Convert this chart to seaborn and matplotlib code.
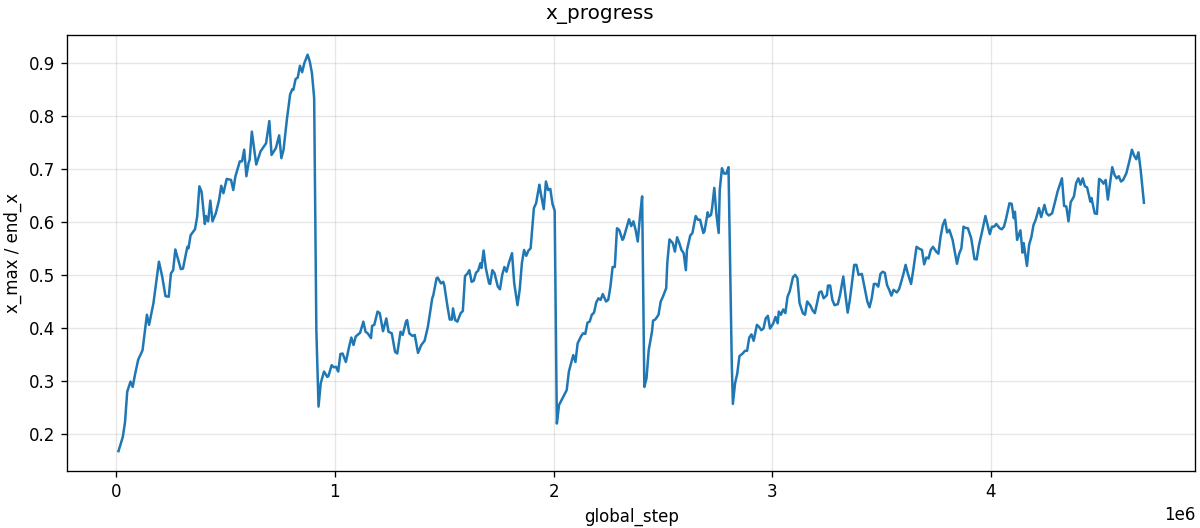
import matplotlib
matplotlib.use("Agg")
from matplotlib import pyplot as plt
import seaborn as sns

# training steps (in thousands) and x_max / end_x
steps_k = [
    10, 30, 40, 50, 65, 75, 85, 100, 120, 140,
    150, 170, 195, 210, 225, 240, 250, 260, 270, 295,
    305, 325, 330, 340, 360, 370, 380, 390, 405, 410,
    420, 430, 440, 455, 470, 480, 490, 505, 525, 535,
    545, 565, 575, 585, 595, 605, 610, 620, 640, 660,
    675, 685, 700, 710, 730, 745, 755, 765, 780, 795,
    805, 810, 820, 830, 840, 850, 860, 875, 885, 895,
    905, 915, 925,
    935, 950, 965, 970, 985, 995, 1005, 1015, 1025, 1035,
    1050, 1065, 1075, 1085, 1095, 1115, 1130, 1140, 1150, 1165,
    1170, 1180, 1195, 1205, 1220, 1235, 1245, 1260, 1275, 1285,
    1300, 1310, 1325, 1330, 1340, 1355, 1365, 1380, 1395, 1410,
    1425, 1445, 1450, 1465, 1470, 1485, 1495, 1500, 1515, 1525,
    1535, 1540, 1550, 1560, 1575, 1585, 1595, 1605, 1615, 1625,
    1635, 1645, 1655, 1665, 1670, 1680, 1690, 1705, 1710, 1720,
    1730, 1745, 1755, 1765, 1775, 1785, 1795, 1810, 1820, 1835,
    1845, 1855, 1865, 1875, 1885, 1895, 1910, 1920, 1935, 1940,
    1955, 1965, 1975, 1985, 1995, 2005,
    2015, 2025, 2040, 2060, 2070, 2090, 2100, 2110, 2125, 2135,
    2145, 2155, 2165, 2175, 2185, 2195, 2205, 2215, 2225, 2240,
    2250, 2260, 2270, 2280, 2290, 2300, 2315, 2320, 2335, 2345,
    2355, 2365, 2375, 2385, 2395, 2405,
    2415, 2425, 2435, 2450, 2455, 2465, 2480, 2490, 2500, 2515,
    2520, 2530, 2545, 2555, 2565, 2575, 2585, 2595, 2605, 2610,
    2625, 2635, 2650, 2660, 2670, 2685, 2690, 2705, 2710, 2720,
    2725, 2735, 2745, 2755, 2760, 2770, 2780, 2790, 2800,
    2815, 2820, 2830, 2840, 2850, 2865, 2875, 2885, 2895, 2905,
    2915, 2930, 2940, 2950, 2960, 2970, 2980, 2990, 3005, 3015,
    3025, 3030, 3040, 3050, 3060, 3070, 3080, 3095, 3105, 3115,
    3125, 3140, 3150, 3160, 3175, 3185, 3195, 3205, 3215, 3225,
    3235, 3250, 3255, 3265, 3275, 3285, 3300, 3310, 3325, 3335,
    3345, 3355, 3375, 3385, 3395, 3410, 3420, 3435, 3445, 3455,
    3465, 3475, 3485, 3495, 3505, 3515, 3525, 3535, 3545, 3555,
    3570, 3580, 3590, 3600, 3610, 3620, 3635, 3645, 3660, 3670,
    3685, 3695, 3705, 3715, 3725, 3735, 3750, 3760, 3770, 3780,
    3790, 3800, 3810, 3825, 3845, 3855, 3865, 3875, 3880, 3895,
    3910, 3925, 3935, 3945, 3960, 3975, 3985, 3995, 4005, 4015,
    4025, 4040, 4050, 4060, 4070, 4085, 4095, 4105, 4110, 4120,
    4135, 4145, 4150, 4165, 4175, 4185, 4195, 4205, 4220, 4230,
    4245, 4255, 4265, 4280, 4290, 4305, 4325, 4335, 4345, 4355,
    4365, 4380, 4390, 4400, 4410, 4420, 4430, 4440, 4455, 4460,
    4475, 4485, 4495, 4505, 4515, 4525, 4535, 4545, 4555, 4565,
    4575, 4585, 4595, 4605, 4620, 4635, 4645, 4655, 4665, 4675,
    4685, 4700,
]
x_progress = [
    .168, .195, .223, .28, .299, .289, .311, .34, .358, .425,
    .406, .447, .525, .497, .46, .459, .503, .509, .548, .511,
    .512, .553, .55, .575, .586, .61, .667, .657, .596, .611,
    .601, .64, .601, .616, .641, .668, .654, .681, .679, .66,
    .686, .714, .714, .736, .686, .711, .717, .77, .708, .733,
    .742, .748, .79, .726, .739, .763, .72, .736, .792, .84,
    .85, .849, .869, .872, .894, .882, .899, .915, .902, .88,
    .833, .396, .252,
    .296, .318, .308, .309, .33, .326, .327, .318, .351, .352,
    .336, .365, .382, .368, .384, .391, .412, .393, .39, .381,
    .404, .406, .431, .428, .394, .418, .393, .39, .355, .352,
    .393, .387, .412, .415, .39, .385, .387, .353, .368, .376,
    .402, .456, .462, .494, .495, .484, .487, .481, .44, .416,
    .416, .437, .415, .412, .428, .432, .498, .502, .509, .487,
    .489, .504, .508, .522, .513, .546, .513, .484, .483, .509,
    .503, .478, .473, .5, .515, .506, .522, .541, .484, .443,
    .472, .522, .547, .536, .546, .55, .626, .635, .67, .657,
    .624, .676, .66, .662, .634, .621,
    .22, .255, .267, .283, .318, .349, .336, .371, .384, .39,
    .389, .41, .412, .425, .429, .448, .456, .453, .464, .45,
    .453, .478, .515, .515, .588, .585, .566, .569, .591, .605,
    .592, .601, .585, .563, .61, .648,
    .289, .305, .358, .393, .414, .416, .425, .45, .459, .475,
    .522, .567, .56, .544, .571, .56, .547, .541, .509, .547,
    .574, .579, .611, .604, .604, .579, .582, .618, .61, .613,
    .626, .664, .613, .579, .66, .701, .691, .691, .703,
    .333, .257, .296, .314, .347, .352, .357, .357, .382, .388,
    .376, .406, .402, .396, .399, .418, .423, .399, .409, .421,
    .409, .431, .425, .435, .428, .459, .469, .496, .5, .494,
    .447, .428, .425, .45, .442, .433, .428, .447, .467, .469,
    .456, .462, .48, .48, .453, .443, .445, .462, .497, .462,
    .429, .453, .519, .519, .5, .502, .481, .45, .439, .456,
    .483, .483, .478, .502, .506, .504, .481, .472, .461, .472,
    .467, .473, .487, .502, .519, .503, .483, .509, .553, .55,
    .547, .52, .533, .531, .547, .553, .544, .54, .572, .594,
    .604, .58, .585, .566, .521, .54, .55, .591, .589, .588,
    .569, .53, .529, .555, .582, .611, .594, .577, .591, .591,
    .596, .588, .586, .591, .607, .635, .634, .607, .619, .566,
    .584, .542, .56, .517, .557, .571, .594, .604, .626, .609,
    .632, .616, .612, .616, .632, .657, .682, .63, .629, .601,
    .637, .648, .673, .682, .67, .682, .667, .665, .638, .645,
    .616, .615, .681, .678, .672, .679, .642, .673, .703, .689,
    .682, .686, .676, .679, .692, .717, .736, .725, .718, .731,
    .698, .636,
]
assert len(steps_k) == len(x_progress)
global_step = [s * 1000 for s in steps_k]

fig, ax = plt.subplots(figsize=(10, 4.4), dpi=120)
sns.lineplot(x=global_step, y=x_progress, ax=ax, color="#1f77b4",
             linewidth=1.5, estimator=None)
fig.suptitle("x_progress", fontsize=12, y=0.99)
ax.set_xlabel("global_step")
ax.set_ylabel("x_max / end_x")
ax.grid(True, alpha=0.3)
fig.subplots_adjust(left=0.056, right=0.996, top=0.934, bottom=0.108)
fig.savefig("out.png", dpi=120)
